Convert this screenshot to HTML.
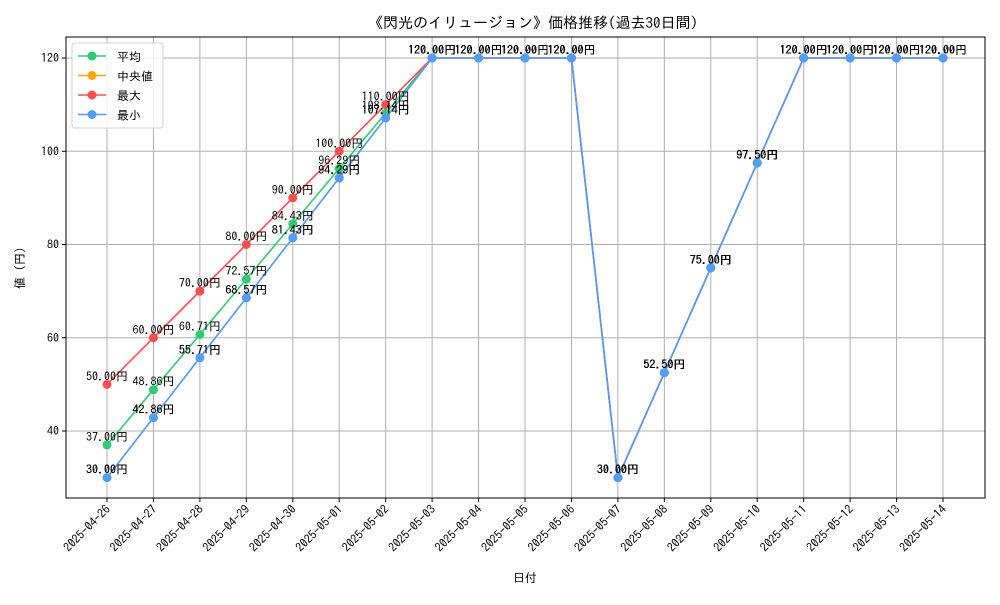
<!DOCTYPE html>
<html><head><meta charset="utf-8"><style>
body{margin:0;background:#fff}
svg text{font-family:"IPAGothic","Liberation Sans","Noto Sans CJK JP",sans-serif}
</style></head><body>
<svg id="chart" width="1000" height="600" xmlns="http://www.w3.org/2000/svg"></svg>
<script>
const dates=["2025-04-26","2025-04-27","2025-04-28","2025-04-29","2025-04-30","2025-05-01","2025-05-02","2025-05-03","2025-05-04","2025-05-05","2025-05-06","2025-05-07","2025-05-08","2025-05-09","2025-05-10","2025-05-11","2025-05-12","2025-05-13","2025-05-14"];
const meanVals=[37,48.86,60.71,72.57,84.43,96.29,108.14,120,120,120,120,30,52.5,75,97.5,120,120,120,120];
const medianVals=[30,42.86,55.71,68.57,81.43,94.29,107.14,120,120,120,120,30,52.5,75,97.5,120,120,120,120];
const maxVals=[50,60,70,80,90,100,110,120,120,120,120,30,52.5,75,97.5,120,120,120,120];
const minVals=[30,42.86,55.71,68.57,81.43,94.29,107.14,120,120,120,120,30,52.5,75,97.5,120,120,120,120];
const yTicks=[40,60,80,100,120];

const svg=document.getElementById('chart');
const NS='http://www.w3.org/2000/svg';
const L=66,R=985,T=37,B=498;
function xs(i){return 107+i*(943-107)/(dates.length-1);}
function ys(v){return 431-(v-40)*(373/80);}
function mk(tag,attrs,parent){const e=document.createElementNS(NS,tag);for(const k in attrs)e.setAttribute(k,attrs[k]);(parent||svg).appendChild(e);return e;}

// title
let t=mk('text',{x:533,y:28,'text-anchor':'middle','font-size':15});

t.textContent='《閃光のイリュージョン》価格推移(過去30日間)';

// grid
const grid=mk('g',{stroke:'#b0b0b0','stroke-width':1});

dates.forEach((d,i)=>{mk('line',{x1:xs(i),x2:xs(i),y1:T,y2:B},grid);});
yTicks.forEach(v=>{mk('line',{x1:L,x2:R,y1:ys(v),y2:ys(v)},grid);});

// axes ticks & labels
const xa=mk('g',{});
dates.forEach((d,i)=>{
  mk('line',{x1:xs(i),x2:xs(i),y1:B,y2:B+4,stroke:'#000'},xa);
  const tx=mk('text',{x:0,y:0,'text-anchor':'end','font-size':12,transform:`translate(${xs(i)+4},${B+12}) rotate(-45)`},xa);
  
  tx.textContent=d;
});
const ya=mk('g',{});
yTicks.forEach(v=>{
  mk('line',{x1:L-4,x2:L,y1:ys(v),y2:ys(v),stroke:'#000'},ya);
  const tx=mk('text',{x:L-7,y:ys(v)+4,'text-anchor':'end','font-size':12},ya);
  
  tx.textContent=v;
});
let xt=mk('text',{x:525,y:582,'text-anchor':'middle','font-size':12});
xt.textContent='日付';
let yt=mk('text',{x:0,y:0,'text-anchor':'middle','font-size':12,transform:'translate(24,268) rotate(-90)'});
yt.textContent='値 (円)';

// series
const series=[
 {name:'平均',key:'mean',vals:meanVals,color:'#2ecc71'},
 {name:'中央値',key:'median',vals:medianVals,color:'#ffa500'},
 {name:'最大',key:'max',vals:maxVals,color:'#ff4d4d'},
 {name:'最小',key:'min',vals:minVals,color:'#4d9fff'}];
series.forEach(s=>{
  const g=mk('g',{});
  
  const pts=s.vals.map((v,i)=>xs(i)+','+ys(v)).join(' ');
  const pl=mk('polyline',{points:pts,fill:'none',stroke:s.color,'stroke-width':1.6},g);
  
  s.vals.forEach((v,i)=>{
    const c=mk('circle',{cx:xs(i),cy:ys(v),r:4.5,fill:s.color},g);
    
  });
});
series.forEach(s=>{
  const g=mk('g',{});
  
  s.vals.forEach((v,i)=>{
    const tx=mk('text',{x:xs(i),y:ys(v)-4,'text-anchor':'middle','font-size':12},g);
    
    tx.textContent=v.toFixed(2)+'円';
  });
});

// frame
const fr=mk('rect',{x:L,y:T,width:R-L,height:B-T,fill:'none',stroke:'#000','stroke-width':1});


// legend
const lg=mk('g',{});
mk('rect',{x:72,y:43,width:91,height:85,rx:3,fill:'#fff','fill-opacity':0.85,stroke:'#d0d0d0'},lg);
series.forEach((s,k)=>{
  const y=56+k*19.5;
  const e=mk('g',{},lg);
  mk('line',{x1:78,x2:106,y1:y,y2:y,stroke:s.color,'stroke-width':1.6},e);
  mk('circle',{cx:92,cy:y,r:4.5,fill:s.color},e);
  const tx=mk('text',{x:117,y:y+5,'font-size':12},e);tx.textContent=s.name;
});
</script>
</body></html>
